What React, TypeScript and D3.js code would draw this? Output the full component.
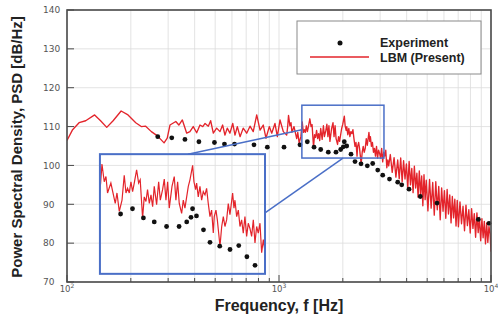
import React from "react";
import * as d3 from "d3";

const W = 498;
const H = 320;
const plot = { left: 67, right: 491, top: 10, bottom: 282 };

// LBM (Present) spectrum, frequency [Hz] / PSD [dB/Hz]
const lbmFreq = [
  100, 106, 114, 122.5, 135, 144, 154, 165, 180, 194, 211, 224, 235, 250, 267, 287, 297, 306, 326, 337, 350,
  367, 380, 394, 409, 424, 437, 448, 464, 476, 490, 508, 527, 542, 556, 570, 587, 605, 620, 636, 655,
  678, 704, 730, 756, 785, 814, 843, 868, 900, 924, 957, 982, 1011, 1048, 1087,
  1099, 1109, 1126, 1139, 1151, 1177, 1212, 1226, 1245, 1268,
  1287, 1302, 1316, 1331, 1346, 1361, 1376, 1398, 1417, 1432,
  1455, 1471, 1488, 1504, 1522, 1539, 1556, 1573, 1598, 1620,
  1638, 1663, 1682, 1701, 1720, 1739, 1771, 1798, 1818, 1839,
  1859, 1889, 1910, 1931, 1975, 1997, 2033, 2051, 2074, 2088,
  2111, 2135, 2159, 2183, 2208, 2232, 2257, 2283, 2308, 2334,
  2349, 2376, 2398, 2414, 2441, 2469, 2496, 2523, 2552, 2580,
  2609, 2638, 2656, 2680, 2698, 2729, 2759, 2790, 2821, 2852,
  2884, 2917, 2949, 2982, 3016, 3050, 3084, 3119, 3153, 3189,
  3225, 3261, 3291,
  3350, 3420, 3490, 3560, 3630, 3690,
  3750, 3810, 3870, 3930, 3990, 4050, 4110, 4170, 4230, 4290, 4350, 4410, 4470, 4530, 4590, 4650, 4710, 4770, 4830, 4890, 4950,
  5040, 5130, 5220, 5310, 5400, 5490, 5580, 5670, 5760, 5850, 5940, 6030, 6120, 6210, 6300, 6390, 6480, 6570, 6660, 6750, 6840, 6930,
  7020, 7140, 7260, 7380, 7500, 7620, 7740, 7860, 7980, 8100, 8220, 8340, 8460, 8580, 8700, 8820, 8940, 9060, 9180, 9300, 9420, 9540, 9660, 9780, 9900, 10000,
];
const lbmPsd = [
  106.4, 109.1, 111.0, 111.5, 113.0, 111.5, 109.8, 111.5, 114.0, 113.0, 111.0, 110.0, 110.1, 108.7, 107.6, 105.8, 107.0, 110.4, 111.3, 110.4, 111.7,
  108.3, 108.7, 110.0, 108.4, 110.4, 110.0, 110.8, 110.1, 111.5, 108.3, 109.6, 108.7, 110.4, 107.8, 109.6, 108.3, 110.8, 107.8, 110.0, 107.4,
  109.6, 108.3, 110.1, 108.7, 113.0, 109.1, 110.4, 107.0, 110.0, 108.3, 110.8, 107.4, 111.7, 108.7, 107.8,
  110.0, 112.9, 110.2, 111.0, 108.5, 110.0, 106.9, 108.5, 105.7, 107.4,
  111.2, 108.5, 109.2, 108.5, 110.2, 108.7, 110.0, 112.0, 110.0, 110.5,
  104.7, 107.9, 107.2, 109.0, 106.9, 108.2, 106.4, 109.5, 106.7, 110.2,
  107.4, 109.0, 110.6, 107.4, 110.2, 106.2, 109.5, 111.0, 107.4, 110.2,
  106.9, 105.4, 107.4, 106.2, 109.5, 110.5, 112.7, 110.2, 109.0, 110.0,
  107.9, 109.5, 107.4, 108.7, 108.2, 109.2, 106.9, 104.9, 105.9, 102.4,
  104.9, 105.9, 104.4, 102.9, 100.4, 103.4, 104.9, 103.4, 104.4, 106.9,
  105.2, 107.2, 108.5, 106.2, 107.4, 104.9, 105.9, 103.4, 104.4, 102.4,
  104.9, 101.9, 103.9, 103.1, 101.9, 104.4, 100.9, 103.4, 102.4, 103.9,
  99.4, 101.4, 99.9,
  102.8, 98.2, 102.0, 97.0, 101.4, 96.6,
  101.9, 95.8, 101.2, 96.5, 100.4, 94.3, 101.0, 95.0, 99.2, 93.0, 99.8, 94.2, 98.0, 91.8, 98.6, 92.5, 97.3, 89.6, 97.6, 91.2, 96.2,
  88.3, 96.4, 89.0, 95.6, 87.2, 95.8, 88.6, 94.6, 86.0, 94.2, 88.2, 93.5, 86.4, 93.8, 87.5, 92.4, 85.2, 92.0, 86.5, 91.3, 84.4, 91.0,
  84.2, 90.6, 85.0, 89.5, 83.2, 89.8, 84.5, 88.6, 82.6, 88.9, 83.8, 87.6, 81.5, 87.8, 82.7, 86.6, 80.6, 86.3, 81.4, 85.6, 79.8, 85.2, 80.2, 84.3, 82.4, 77.8,
];

// Experiment
const expFreq = [
  268, 312, 360, 419, 496, 553, 617, 762, 881, 1056, 1256, 1360, 1463, 1573, 1708, 1857, 1954, 2011,
  2032, 2086, 2186, 2283, 2437, 2610, 2767, 2922, 3085, 3320, 3630, 3792, 4105, 4640, 5564, 8713, 9787,
];
const expPsd = [
  107.4, 107.1, 106.7, 106.1, 105.9, 105.5, 105.5, 105.3, 104.7, 104.7, 105.3, 106.1, 104.7, 104.1, 103.4, 103.4, 104.1, 104.8,
  106.1, 105.0, 102.9, 101.0, 100.4, 99.9, 100.5, 98.8, 97.5, 96.5, 95.7, 95.0, 93.9, 92.0, 90.3, 86.1, 85.1,
];

const psdTicks = [70, 80, 90, 100, 110, 120, 130, 140];
const decadeExps = [2, 3, 4];

// zoom window (in main axis units) and where the magnified view sits
const zoomFreq = [1282, 3127];
const zoomPsd = [101.9, 115.5];
const insetAtFreq = [143, 859];
const insetAtPsd = [72.1, 102.9];
const insetFreq = [1094, 3298];
const insetPsd = [96.2, 114.4];

const RED = "#e3242b";
const BLUE = "#4a6fc7";
const FONT = "'Liberation Sans', Arial, sans-serif";

export default function App() {
  const x = d3.scaleLog().domain([100, 10000]).range([plot.left, plot.right]);
  const y = d3.scaleLinear().domain([70, 140]).range([plot.bottom, plot.top]);

  const ix = d3.scaleLog().domain(insetFreq).range([x(insetAtFreq[0]), x(insetAtFreq[1])]);
  const iy = d3.scaleLinear().domain(insetPsd).range([y(insetAtPsd[0]), y(insetAtPsd[1])]);

  const pts: [number, number][] = lbmFreq.map((f, i) => [f, lbmPsd[i]]);
  const mainLine = d3.line<[number, number]>().x(d => x(d[0])).y(d => y(d[1]))(pts) || "";
  const insetLine = d3.line<[number, number]>().x(d => ix(d[0])).y(d => iy(d[1]))(pts) || "";

  const grid = x.ticks();
  const insetDots = expFreq
    .map((f, i) => [f, expPsd[i]])
    .filter(d => d[0] >= insetFreq[0] && d[0] <= insetFreq[1]);

  const bx0 = x(zoomFreq[0]), bx1 = x(zoomFreq[1]);
  const by0 = y(zoomPsd[1]), by1 = y(zoomPsd[0]);
  const ix0 = x(insetAtFreq[0]), ix1 = x(insetAtFreq[1]);
  const iy0 = y(insetAtPsd[1]), iy1 = y(insetAtPsd[0]);

  const isDecade = (t: number) => Math.abs(Math.log10(t) - Math.round(Math.log10(t))) < 1e-9;

  return (
    <div style={{ position: "absolute", left: 0, top: 0 }}>
      <svg width={W} height={H} style={{ display: "block", background: "#fff" }}>
        <defs>
          <clipPath id="plotClip">
            <rect x={plot.left} y={plot.top} width={plot.right - plot.left} height={plot.bottom - plot.top} />
          </clipPath>
          <clipPath id="insetClip">
            <rect x={ix0} y={iy0} width={ix1 - ix0} height={iy1 - iy0} />
          </clipPath>
        </defs>

        {/* grid */}
        <g stroke="#dcdcdc" strokeWidth={0.8}>
          {grid.map(t => (
            <line key={"gx" + t} x1={x(t)} x2={x(t)} y1={plot.top} y2={plot.bottom} />
          ))}
          {psdTicks.map(t => (
            <line key={"gy" + t} x1={plot.left} x2={plot.right} y1={y(t)} y2={y(t)} />
          ))}
        </g>

        {/* main data */}
        <path d={mainLine} fill="none" stroke={RED} strokeWidth={1.35} strokeLinejoin="round" clipPath="url(#plotClip)" />
        {expFreq.map((f, i) => (
          <circle key={"e" + i} cx={x(f)} cy={y(expPsd[i])} r={2.4} fill="#111" />
        ))}

        {/* zoom window + magnified inset */}
        <rect x={bx0} y={by0} width={bx1 - bx0} height={by1 - by0} fill="none" stroke={BLUE} strokeWidth={1.5} />
        <g clipPath="url(#insetClip)">
          <path d={insetLine} fill="none" stroke={RED} strokeWidth={1.2} />
          {insetDots.map((d, i) => (
            <circle key={"i" + i} cx={ix(d[0])} cy={iy(d[1])} r={2.4} fill="#111" />
          ))}
        </g>
        <rect x={ix0} y={iy0} width={ix1 - ix0} height={iy1 - iy0} fill="none" stroke={BLUE} strokeWidth={2} />
        <g stroke={BLUE} strokeWidth={1.5}>
          <line x1={x(372)} y1={iy0} x2={bx0} y2={y(109.2)} />
          <line x1={ix1} y1={y(87.8)} x2={x(2004)} y2={by1} />
        </g>

        {/* frame and ticks */}
        <rect x={plot.left} y={plot.top} width={plot.right - plot.left} height={plot.bottom - plot.top}
          fill="none" stroke="#4a4a4a" strokeWidth={1.6} />
        <g stroke="#4a4a4a" strokeWidth={1}>
          {grid.map(t => (
            <line key={"tx" + t} x1={x(t)} x2={x(t)} y1={plot.bottom} y2={plot.bottom - (isDecade(t) ? 7 : 4)} />
          ))}
          {psdTicks.map(t => (
            <line key={"ty" + t} x1={plot.left} x2={plot.left + 7} y1={y(t)} y2={y(t)} />
          ))}
        </g>

        {/* tick labels */}
        <g fontFamily="'DejaVu Sans', sans-serif" fontSize={9} fill="#555">
          {psdTicks.map(t => (
            <text key={"ly" + t} x={43} y={y(t)} dy="0.36em">{t}</text>
          ))}
          {decadeExps.map(e => (
            <text key={"lx" + e} x={x(Math.pow(10, e))} y={292} textAnchor="middle" fontSize={8.5}>
              10<tspan dy={-4} fontSize={6}>{e}</tspan>
            </text>
          ))}
        </g>

        {/* axis titles */}
        <text x={(plot.left + plot.right) / 2} y={311} textAnchor="middle" fontFamily={FONT}
          fontWeight="bold" fontSize={16} fill="#222">Frequency, f [Hz]</text>
        <text transform={`translate(21.5,${(plot.top + plot.bottom) / 2 + 1}) rotate(-90)`} textAnchor="middle"
          fontFamily={FONT} fontWeight="bold" fontSize={15} fill="#222">Power Spectral Density, PSD [dB/Hz]</text>

        {/* legend */}
        <rect x={297} y={21} width={184} height={53} fill="#fff" stroke="#8a8a8a" strokeWidth={1} />
        <circle cx={340} cy={43} r={2.5} fill="#111" />
        <line x1={310} x2={369} y1={57} y2={57} stroke={RED} strokeWidth={1.5} />
        <g fontFamily={FONT} fontWeight="bold" fontSize={12.5} fill="#222">
          <text x={380} y={47}>Experiment</text>
          <text x={380} y={61.5}>LBM (Present)</text>
        </g>
      </svg>
    </div>
  );
}
